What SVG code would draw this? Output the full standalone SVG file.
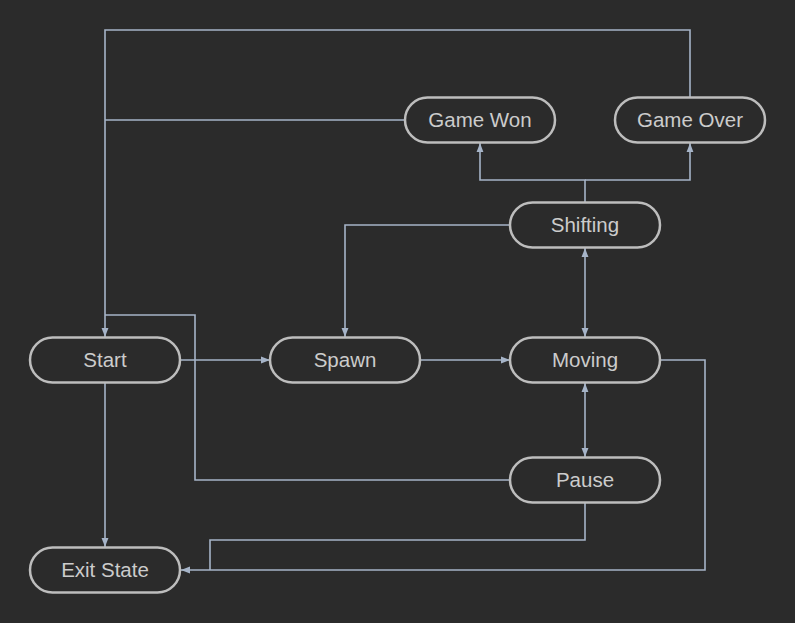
<svg xmlns="http://www.w3.org/2000/svg" width="795" height="623" viewBox="0 0 795 623">
<defs>
<style>
.node rect{fill:#2b2b2b;stroke:#bdbdbd;stroke-width:2.5}
.node text{fill:#cccccc;font-family:"Liberation Sans",Arial,sans-serif;font-size:20.5px;text-anchor:middle;dominant-baseline:central}
.edges path{fill:none;stroke:#a6b4c8;stroke-width:1.6}
</style>
<marker id="ah" viewBox="0 0 10 10" refX="10" refY="5" markerWidth="9" markerHeight="9" markerUnits="userSpaceOnUse" orient="auto-start-reverse">
<path d="M0,1.2 L10,5 L0,8.8 z" fill="#a6b4c8"/>
</marker>
</defs>
<rect width="795" height="623" fill="#2b2b2b"/>
<g class="edges">
<path d="M690,97 V30 H105 V337" marker-end="url(#ah)"/>
<path d="M405,120 H105"/>
<path d="M585,202 V180 H480 V143" marker-end="url(#ah)"/>
<path d="M585,180 H690 V143" marker-end="url(#ah)"/>
<path d="M510,225 H345 V337" marker-end="url(#ah)"/>
<path d="M585,248 V337" marker-start="url(#ah)" marker-end="url(#ah)"/>
<path d="M180,360 H270" marker-end="url(#ah)"/>
<path d="M420,360 H510" marker-end="url(#ah)"/>
<path d="M585,383 V457" marker-start="url(#ah)" marker-end="url(#ah)"/>
<path d="M510,480 H195 V315 H105"/>
<path d="M105,383 V547" marker-end="url(#ah)"/>
<path d="M585,503 V540 H210 V570"/>
<path d="M660,360 H705 V570 H181" marker-end="url(#ah)"/>
</g>
<g id="start" class="node"><rect x="30" y="337.5" width="150" height="45" rx="22.5"/><text x="105" y="359">Start</text></g>
<g id="spawn" class="node"><rect x="270" y="337.5" width="150" height="45" rx="22.5"/><text x="345" y="359">Spawn</text></g>
<g id="moving" class="node"><rect x="510" y="337.5" width="150" height="45" rx="22.5"/><text x="585" y="359">Moving</text></g>
<g id="shifting" class="node"><rect x="510" y="202.5" width="150" height="45" rx="22.5"/><text x="585" y="224">Shifting</text></g>
<g id="pause" class="node"><rect x="510" y="457.5" width="150" height="45" rx="22.5"/><text x="585" y="479">Pause</text></g>
<g id="gamewon" class="node"><rect x="405" y="97.5" width="150" height="45" rx="22.5"/><text x="480" y="119">Game Won</text></g>
<g id="gameover" class="node"><rect x="615" y="97.5" width="150" height="45" rx="22.5"/><text x="690" y="119">Game Over</text></g>
<g id="exit" class="node"><rect x="30" y="547.5" width="150" height="45" rx="22.5"/><text x="105" y="569">Exit State</text></g>
</svg>
